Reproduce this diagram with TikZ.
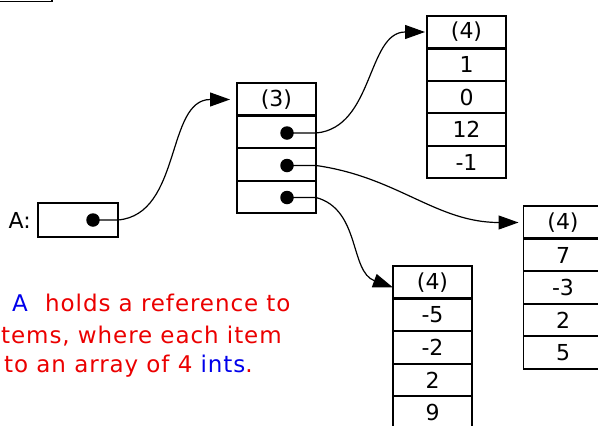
\documentclass[tikz,border=0pt]{standalone}
\usepackage{fontspec}
\setmainfont{DejaVu Sans}
\newfontfamily\txtfont{DejaVu Sans}[LetterSpace=4]
\usetikzlibrary{arrows.meta}
\definecolor{txtred}{RGB}{235,0,0}
\definecolor{txtblue}{RGB}{0,0,235}
\begin{document}
\begin{tikzpicture}[x=1pt,y=1pt,
  cell/.style={draw,line width=1.6pt,minimum width=79pt,minimum height=32.5pt,
    inner sep=0pt,outer sep=0pt,font=\fontsize{22}{24}\selectfont},
  sep/.style={line width=3.2pt},
  dotn/.style={circle,fill=black,inner sep=0pt,minimum size=13.5pt},
  wire/.style={line width=1.2pt,-{Triangle[length=20pt,width=14pt]}},
  note/.style={anchor=base west,inner sep=0pt,font=\txtfont\fontsize{23}{26}\selectfont,text=txtred}]
\useasboundingbox (0,0) rectangle (598,-426);
\clip (0,0) rectangle (598,-426);
% fragment of a box at the top left
\draw[line width=1.6pt] (0,-1.5) -- (52,-1.5) -- (52,1);
% variable A
\node[cell,minimum width=80pt,minimum height=34pt] (a) at (78,-220) {};
\node[anchor=east,inner sep=0pt,font=\fontsize{22}{24}\selectfont] (al) at (31,-220) {A:};
\node[dotn] (ad) at (93,-220) {};
% middle array (3)
\node[cell] (m0) at (276.5,-99.5) {(3)};
\node[cell] (m1) at (276.5,-132) {};
\node[cell] (m2) at (276.5,-164.5) {};
\node[cell] (m3) at (276.5,-197) {};
\draw[sep] (m0.south west) -- (m0.south east);
\node[dotn] (d1) at (287,-133) {};
\node[dotn] (d2) at (287,-165.5) {};
\node[dotn] (d3) at (287,-197.5) {};
% top array
\node[cell] (t0) at (466.5,-32) {(4)};
\node[cell] (t1) at (466.5,-64.5) {1};
\node[cell] (t2) at (466.5,-97) {0};
\node[cell] (t3) at (466.5,-129.5) {12};
\node[cell] (t4) at (466.5,-162) {-1};
\draw[sep] (t0.south west) -- (t0.south east);
% right array
\node[cell] (r0) at (563,-222.5) {(4)};
\node[cell] (r1) at (563,-255) {7};
\node[cell] (r2) at (563,-287.5) {-3};
\node[cell] (r3) at (563,-320) {2};
\node[cell] (r4) at (563,-352.5) {5};
\draw[sep] (r0.south west) -- (r0.south east);
% bottom array
\node[cell] (b0) at (432.5,-282.5) {(4)};
\node[cell] (b1) at (432.5,-315) {-5};
\node[cell] (b2) at (432.5,-347.5) {-2};
\node[cell] (b3) at (432.5,-380) {2};
\node[cell] (b4) at (432.5,-412.5) {9};
\draw[sep] (b0.south west) -- (b0.south east);
% connectors
\draw[wire] (ad.center) -- (a.east |- ad) to[out=5,in=180] ([xshift=-7pt]m0.west);
\draw[wire] (d1.center) -- (m1.east |- d1) to[out=5,in=180] ([xshift=-2pt]t0.west);
\draw[wire] (d2.center) -- (m2.east |- d2) to[out=-8,in=180] ([xshift=-5pt]r0.west);
\draw[wire] (d3.center) -- (m3.east |- d3) to[out=-15,in=160] ([yshift=-5pt]b0.west);
% note
\node[note,text=txtblue] (n0) at (12,-311) {A};
\node[note] (n1) at (45,-311) {holds a reference to};
\node[note] (n2) at (1,-343) {tems, where each item};
\node[note] (n3) at (4,-372) {to an array of 4 \textcolor{txtblue}{ints}.};
\end{tikzpicture}
\end{document}
